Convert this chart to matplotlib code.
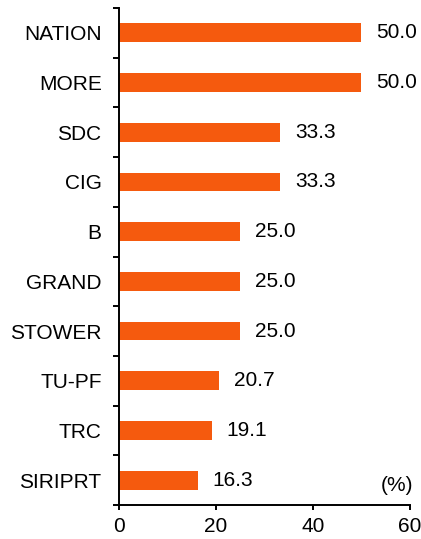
import matplotlib
matplotlib.use("Agg")
import matplotlib.pyplot as plt
import numpy as np

categories = ["NATION", "MORE", "SDC", "CIG", "B", "GRAND", "STOWER", "TU-PF", "TRC", "SIRIPRT"]
values = [50.0, 50.0, 33.3, 33.3, 25.0, 25.0, 25.0, 20.7, 19.1, 16.3]
xticks = [0, 20, 40, 60]

plt.rcParams['font.family'] = ['Liberation Sans', 'DejaVu Sans']

fig = plt.figure(figsize=(4.21, 5.39), dpi=100)
ax = fig.add_axes([0.2827, 0.0631, 0.691, 0.922])

y = np.arange(len(categories))
ax.barh(y, values, height=0.38, color='#F55A0E')
ax.set_ylim(len(categories) - 0.5, -0.5)
ax.set_xlim(0, 60)

for yi, v in zip(y, values):
    ax.text(v + 3, yi, f"{v:.1f}", va='center', ha='left', fontsize=15)

ax.set_yticks(y)
ax.set_yticklabels(categories, fontsize=15)
ax.set_yticks(np.arange(-0.5, len(categories)), minor=True)
ax.tick_params(axis='y', which='major', length=0, pad=12.5)
ax.tick_params(axis='y', which='minor', length=4, width=1.4, direction='out')
ax.set_xticks(xticks)
ax.set_xticklabels([str(t) for t in xticks], fontsize=15)
ax.tick_params(axis='x', length=3.6, width=1.4, direction='out', pad=5)

for s in ['top', 'right']:
    ax.spines[s].set_visible(False)
for s in ['left', 'bottom']:
    ax.spines[s].set_linewidth(1.4)

ax.text(60.6, 9.3, "(%)", ha='right', va='bottom', fontsize=15)

fig.savefig("out.png", dpi=100)
